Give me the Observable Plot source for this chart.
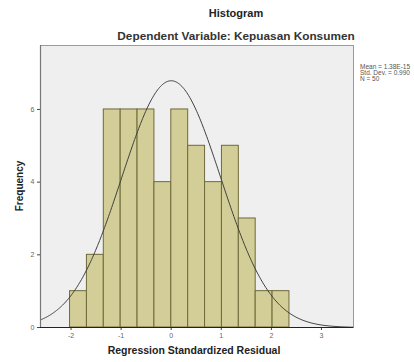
<!DOCTYPE html>
<html>
<head>
<meta charset="utf-8">
<script src="https://cdn.jsdelivr.net/npm/d3@7"></script>
<script src="https://cdn.jsdelivr.net/npm/@observablehq/plot@0.6"></script>
<style>
  html, body { margin: 0; padding: 0; background: #ffffff; overflow: hidden; }
  #chart svg { display: block; }
</style>
</head>
<body>
<div id="chart"></div>
<script>
// ---- data ----
const titleText = "Histogram";
const subtitleText = "Dependent Variable: Kepuasan Konsumen";
const xLabel = "Regression Standardized Residual";
const yLabel = "Frequency";
const binStart = -2.02;
const binWidth = 0.337;
const counts = [1, 2, 6, 6, 6, 4, 6, 5, 4, 5, 3, 1, 1];
const xTicks = [-2, -1, 0, 1, 2, 3];
const yTicks = [0, 2, 4, 6];
const statMean = 0;
const statSD = 0.99;
const statN = 50;
const statLines = ["Mean = 1.38E-15", "Std. Dev. = 0.990", "N = 50"];

const bins = counts.map((c, i) => ({
  x1: binStart + i * binWidth,
  x2: binStart + (i + 1) * binWidth,
  count: c
}));

const xDomain = [-2.61, 3.64];
const yDomain = [0, 7.76];
// fitted normal curve from the displayed statistics
const curve = d3.range(xDomain[0], xDomain[1] + 0.001, 0.02).map(x => ({
  x,
  y: statN * binWidth / (statSD * Math.sqrt(2 * Math.PI)) *
     Math.exp(-0.5 * ((x - statMean) / statSD) ** 2)
}));

const W = 414, H = 362;
const mL = 40, mR = 61, mT = 45, mB = 35;
const FONT = "Liberation Sans, Arial, sans-serif";

const chart = Plot.plot({
  width: W,
  height: H,
  marginLeft: mL,
  marginRight: mR,
  marginTop: mT,
  marginBottom: mB,
  style: { fontFamily: FONT, background: "#ffffff", overflow: "hidden" },
  x: { domain: xDomain, label: null },
  y: { domain: yDomain, label: null },
  marks: [
    Plot.frame({ fill: "#efefef", stroke: "#9a9a9a", strokeWidth: 1 }),
    Plot.rectY(bins, { x1: "x1", x2: "x2", y: "count", fill: "#d3ce97", stroke: "#6e6a3a", strokeWidth: 1 }),
    Plot.line(curve, { x: "x", y: "y", stroke: "#404040", strokeWidth: 1 }),
    Plot.axisX({ ticks: xTicks, tickFormat: d => String(d), tickSize: 3, tickPadding: 3, fontSize: 7, fill: "#666", stroke: "#444", label: null }),
    Plot.axisY({ ticks: yTicks, tickFormat: d => String(d), tickSize: 3, tickPadding: 3, fontSize: 7, fill: "#666", stroke: "#444", label: null }),
    Plot.ruleY([0], { stroke: "#222", strokeWidth: 1.2 }),
    Plot.ruleX([xDomain[0]], { stroke: "#777", strokeWidth: 1.2 })
  ]
});

document.getElementById("chart").appendChild(chart);

const svg = d3.select(chart);
const cx = 236;
function addText(t, x, y, size, weight, anchor, fill) {
  return svg.append("text").text(t)
    .attr("x", x).attr("y", y).attr("text-anchor", anchor)
    .attr("font-size", size).attr("font-weight", weight).attr("fill", fill)
    .attr("font-family", FONT);
}
addText(titleText, cx, 17, 11, "bold", "middle", "#222");
addText(subtitleText, cx, 40, 11.8, "bold", "middle", "#333");
addText(xLabel, 194, 354, 10.5, "bold", "middle", "#222");
svg.append("text").text(yLabel)
  .attr("transform", "translate(23,186) rotate(-90)").attr("text-anchor", "middle")
  .attr("font-size", 10).attr("font-weight", "bold").attr("fill", "#222")
  .attr("font-family", FONT);
statLines.forEach((t, i) => {
  addText(t, 360, 69 + i * 6, 6.5, "normal", "start", "#555");
});
</script>
</body>
</html>
